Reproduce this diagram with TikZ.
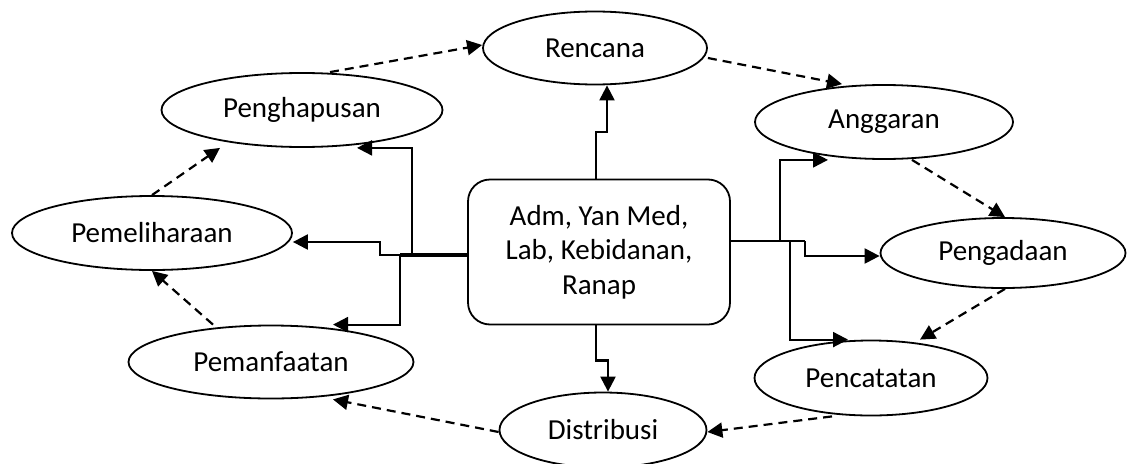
\documentclass[tikz,border=0pt]{standalone}
\usepackage{fontspec}
\setmainfont{Carlito}
\usetikzlibrary{shapes.geometric,arrows.meta}

\begin{document}
\begin{tikzpicture}[x=1pt,y=-1pt,
    proses/.style={draw,ellipse,line width=1.8pt,inner sep=0pt,font=\fontsize{29}{34.5}\selectfont},
    unit/.style={draw,rounded corners=22pt,line width=1.8pt,align=center,inner sep=0pt,font=\fontsize{29}{34.5}\selectfont},
    alur/.style={-{Triangle[length=15pt,width=15pt]},line width=2.2pt},
    siklus/.style={-{Triangle[length=15pt,width=15pt]},line width=2.2pt,dash pattern=on 9pt off 6pt}]
      \useasboundingbox (0,0) rectangle (1139,463);

      \node[unit,minimum width=262pt,minimum height=145pt] (unit) at (599,252) {Adm, Yan Med,\\Lab, Kebidanan,\\Ranap};

      \node[proses,minimum width=224pt,minimum height=73pt] (rencana) at (595,48) {Rencana};
      \node[proses,minimum width=258pt,minimum height=74pt] (anggaran) at (884,122) {Anggaran};
      \node[proses,minimum width=245pt,minimum height=70pt] (pengadaan) at (1003,253) {Pengadaan};
      \node[proses,minimum width=233pt,minimum height=75pt] (pencatatan) at (871,378) {Pencatatan};
      \node[proses,minimum width=207pt,minimum height=75pt] (distribusi) at (603,430) {Distribusi};
      \node[proses,minimum width=285pt,minimum height=73pt] (pemanfaatan) at (271,362) {Pemanfaatan};
      \node[proses,minimum width=280pt,minimum height=74pt] (pemeliharaan) at (152,233) {Pemeliharaan};
      \node[proses,minimum width=281pt,minimum height=74pt] (penghapusan) at (302,110) {Penghapusan};

      \coordinate (kiri) at (400,255);
      \coordinate (kanan) at (780,241);

      \draw[line width=4.5pt] (unit.west |- kiri) -- (kiri);
      \draw[line width=2.8pt] (unit.east |- kanan) -- (kanan);
      \draw[line width=2.2pt] (kanan) -- ++(25,0) coordinate (kanan3);

      \draw[alur] ([xshift=-3pt]unit.north) -- ++(0,-47) -| ([xshift=12pt]rencana.south);
      \draw[alur] ([xshift=-3pt]unit.south) -- ++(0,35) -| ([xshift=5pt]distribusi.north);
      \draw[alur] (kiri) -- ++(-20,0) |- ([yshift=-9pt]pemeliharaan.east);
      \draw[alur] ([xshift=12pt]kiri) |- ([xshift=55pt]penghapusan.south);
      \draw[alur] (kiri) |- ([xshift=62pt]pemanfaatan.north);
      \draw[alur] (kanan) |- ([xshift=-56pt]anggaran.south);
      \draw[alur] ([xshift=10pt]kanan) |- ([xshift=-23pt]pencatatan.north);
      \draw[alur] (kanan3) |- ([yshift=-3pt]pengadaan.west);

      \draw[siklus] ([xshift=28pt]penghapusan.north) -- ([yshift=3pt]rencana.west);
      \draw[siklus] ([yshift=-10pt]rencana.east) -- ([xshift=-42pt]anggaran.north);
      \draw[siklus] ([xshift=28pt]anggaran.south) -- ([xshift=2pt]pengadaan.north);
      \draw[siklus] ([xshift=2pt]pengadaan.south) -- ([xshift=49pt]pencatatan.north);
      \draw[siklus] ([xshift=-39pt]pencatatan.south) -- ([yshift=-2pt]distribusi.east);
      \draw[siklus] ([yshift=-2pt]distribusi.west) -- ([xshift=62pt]pemanfaatan.south);
      \draw[siklus] ([xshift=-58pt]pemanfaatan.north) -- (pemeliharaan.south);
      \draw[siklus] (pemeliharaan.north) -- ([xshift=-82pt]penghapusan.south);
    \end{tikzpicture}
\end{document}
